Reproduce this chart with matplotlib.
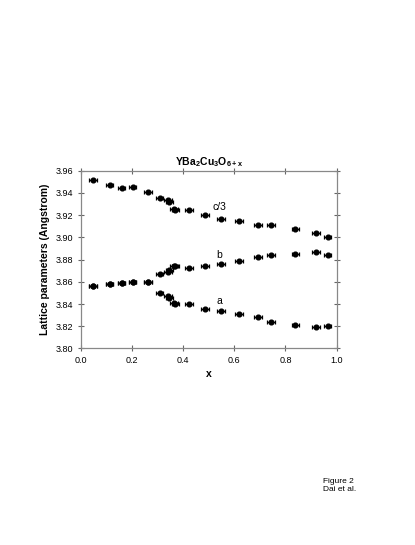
import numpy as np
import matplotlib
matplotlib.use("Agg")
import matplotlib.pyplot as plt

plt.rcParams['font.family'] = ['Liberation Sans', 'DejaVu Sans']
plt.rcParams['mathtext.fontset'] = 'custom'
plt.rcParams['mathtext.rm'] = 'Liberation Sans'
plt.rcParams['mathtext.bf'] = 'Liberation Sans:bold'

# oxygen content x, orthorhombic branch splits at x ~ 0.3
x_all = [0.048, 0.113, 0.160, 0.203, 0.263, 0.308, 0.340, 0.347, 0.365, 0.370,
         0.424, 0.487, 0.549, 0.618, 0.693, 0.745, 0.839, 0.919, 0.965]
c3 = [3.9516, 3.9468, 3.9441, 3.9456, 3.9404, 3.9352, 3.9335, 3.9314, 3.9258, 3.9250,
      3.9250, 3.9200, 3.9168, 3.9145, 3.9112, 3.9109, 3.9073, 3.9040, 3.9001]
b = [3.8566, 3.8578, 3.8590, 3.8596, 3.8596, 3.8670, 3.8692, 3.8706, 3.8742, 3.8746,
     3.8722, 3.8743, 3.8764, 3.8791, 3.8821, 3.8839, 3.8854, 3.8866, 3.8842]
a = [3.8566, 3.8578, 3.8590, 3.8596, 3.8596, 3.8496, 3.8470, 3.8452, 3.8410, 3.8402,
     3.8404, 3.8353, 3.8339, 3.8312, 3.8282, 3.8240, 3.8213, 3.8195, 3.8198]
x_err = 0.015

fig = plt.figure(figsize=(4.15, 5.45), dpi=100)
ax = fig.add_axes([0.1945, 0.3606, 0.6165, 0.3262])

for vals in [c3, b, a]:
    ax.errorbar(x_all, vals, xerr=x_err, fmt='o', color='black', ms=3.4,
                elinewidth=0.9, capsize=1.6, capthick=0.9)

ax.text(0.543, 3.9275, 'c/3', ha='center', va='center', fontsize=7.5)
ax.text(0.543, 3.8845, 'b', ha='center', va='center', fontsize=7.5)
ax.text(0.543, 3.8430, 'a', ha='center', va='center', fontsize=7.5)

ax.set_xlim(0.0, 1.0)
ax.set_ylim(3.80, 3.96)
ax.set_xticks(np.arange(0, 1.01, 0.2))
ax.set_yticks(np.arange(3.80, 3.9601, 0.02))
ax.xaxis.set_major_formatter(matplotlib.ticker.FormatStrFormatter('%.1f'))
ax.yaxis.set_major_formatter(matplotlib.ticker.FormatStrFormatter('%.2f'))
ax.tick_params(direction='inout', length=5, width=0.8, color='#666666',
               labelsize=6.5, top=True, right=True, pad=3)
for s in ax.spines.values():
    s.set_color('#888888')
    s.set_linewidth(0.9)

ax.set_title(r'$\mathbf{YBa_2Cu_3O_{6+x}}$', fontsize=7.5, pad=4)
ax.set_xlabel('x', fontsize=7.5, fontweight='bold', labelpad=3)
ax.set_ylabel('Lattice parameters (Angstrom)', fontsize=7.5, fontweight='bold', labelpad=4)

fig.text(0.778, 0.110, 'Figure 2\nDai et al.', fontsize=6, ha='left', va='center',
         linespacing=1.2)

fig.savefig('out.png', dpi=100)
